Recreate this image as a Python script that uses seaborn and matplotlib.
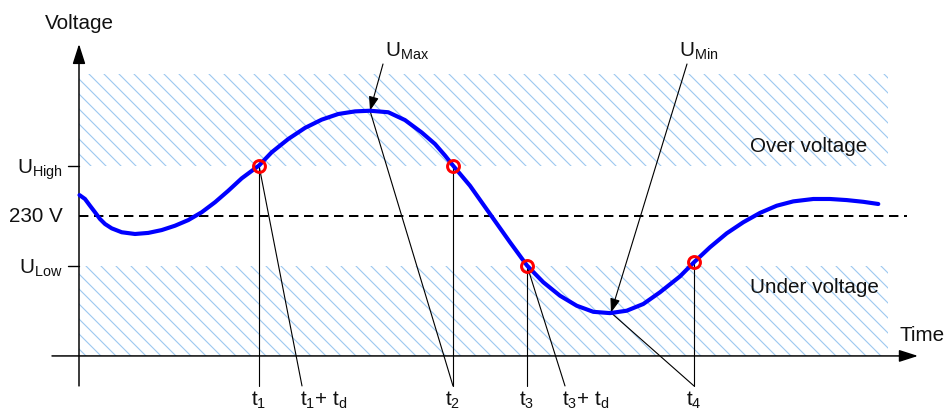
import matplotlib
matplotlib.use("Agg")
import matplotlib.pyplot as plt
import numpy as np
import pandas as pd
import seaborn as sns

# ---------------- data ----------------
time_ms = [0.05, 0.6, 1.1, 1.6, 2.1, 2.6, 3.27, 4.27, 5.6, 6.93, 8.27, 9.6,
           10.93, 12.27, 13.6, 14.93, 16.27, 18.0, 19.27, 20.93, 22.6, 24.27,
           25.93, 27.6, 29.1, 30.93, 32.6, 34.27, 35.6, 36.6, 37.4, 39.1,
           41.1, 43.1, 44.8, 46.43, 48.1, 49.77, 51.43, 53.1, 54.77, 56.43,
           58.1, 60.1, 61.5, 63.1, 64.77, 66.43, 68.1, 69.77, 71.43, 73.43,
           75.1, 76.77, 78.43, 79.93]
voltage = [239.4, 237.6, 234.5, 231.5, 228.4, 226.1, 224.1, 222.3, 221.5,
           222.0, 223.3, 225.3, 227.9, 231.5, 236.1, 241.4, 247.1, 253.0,
           259.1, 265.2, 270.3, 274.1, 276.7, 277.9, 278.2, 277.5, 273.9,
           268.2, 262.9, 257.6, 253.0, 243.7, 230.7, 217.7, 207.0, 199.3,
           193.1, 188.5, 185.7, 185.1, 186.2, 189.3, 194.7, 202.0, 208.5,
           215.4, 221.8, 226.9, 231.2, 234.5, 236.5, 237.6, 237.6, 237.1,
           236.3, 235.3]

U_NOM = 230.0
U_HIGH = 253.0
U_LOW = 207.0
level_values = [U_HIGH, U_NOM, U_LOW]
level_labels = [r"U$_{\mathrm{High}}$", "230 V", r"U$_{\mathrm{Low}}$"]

event_t = [18.0, 37.4, 44.8, 61.5]
event_v = [253.0, 253.0, 207.0, 208.5]
event_labels = [r"t$_{1}$", r"t$_{2}$", r"t$_{3}$", r"t$_{4}$"]

delay_event = [0, 2]
delay_end_t = [22.3, 48.6]
delay_labels = [r"t$_{1}$+ t$_{d}$", r"t$_{3}$+ t$_{d}$"]

extreme_t = [29.1, 53.2]
extreme_v = [278.2, 185.3]
extreme_labels = [r"U$_{\mathrm{Max}}$", r"U$_{\mathrm{Min}}$"]
extreme_arrow_t = [30.4, 60.8]
extreme_label_t = [30.6, 60.0]
extreme_event = [1, 3]

zone_labels = ["Over voltage", "Under voltage"]
zone_label_v = [259.7, 194.7]

# ---------------- layout / style ----------------
T_MIN, T_MAX = -7.9, 86.6
V_MIN, V_MAX = 139.15, 329.6
AXIS_V = 165.4
AXIS_T_START, AXIS_T_END = -2.7, 83.9
YAXIS_BOTTOM, YAXIS_TOP = 151.6, 308.9
LINE_BOTTOM = 151.6
HATCH_TOP = 295.1
HATCH_END = 80.9
DASH_END = 82.8
ANN_V = 299.7
LABEL_V = 303.4
EVENT_LABEL_V = 143.0

FS = 16.5
BLUE = "#0000ff"
RED = "#ff0000"
HATCH_C = "#9ec8f0"
TXT = "#111111"

sns.set_theme(style="white")
plt.rcParams["font.family"] = ["Liberation Sans", "DejaVu Sans"]
plt.rcParams["mathtext.fontset"] = "custom"
plt.rcParams["mathtext.rm"] = "Liberation Sans"
plt.rcParams["mathtext.it"] = "Liberation Sans"
plt.rcParams["mathtext.default"] = "regular"
plt.rcParams["hatch.linewidth"] = 0.9

fig = plt.figure(figsize=(10.5, 4.6), dpi=90)
ax = fig.add_axes([0, 0, 1, 1])

# hatched zones
ax.fill_between([0, HATCH_END], U_HIGH, HATCH_TOP, facecolor="none",
                edgecolor=HATCH_C, hatch="\\\\", linewidth=0, zorder=1)
ax.fill_between([0, HATCH_END], AXIS_V, U_LOW, facecolor="none",
                edgecolor=HATCH_C, hatch="\\\\", linewidth=0, zorder=1)

# nominal dashed line
ax.plot([0, DASH_END], [U_NOM, U_NOM], color="black", lw=1.6,
        dashes=(4.7, 2.8), zorder=2)

# axes with arrows
arrow_style = "-|>,head_length=1.0,head_width=0.32"
ax.annotate("", xy=(AXIS_T_END, AXIS_V), xytext=(AXIS_T_START, AXIS_V),
            arrowprops=dict(arrowstyle=arrow_style, mutation_scale=12.8,
                            lw=1.2, color="black", shrinkA=0, shrinkB=0),
            zorder=3)
ax.annotate("", xy=(0, YAXIS_TOP), xytext=(0, YAXIS_BOTTOM),
            arrowprops=dict(arrowstyle=arrow_style, mutation_scale=13.5,
                            lw=1.2, color="black", shrinkA=0, shrinkB=0),
            zorder=3)

# level ticks and labels
for v, lab in zip(level_values, level_labels):
    if v != U_NOM:
        ax.plot([-1.1, 0], [v, v], color="black", lw=1.1, zorder=3)
        ax.text(-1.6, v - 3.2, lab, ha="right", va="baseline",
                fontsize=FS, color=TXT)
    else:
        ax.text(-1.6, v - 2.6, lab, ha="right", va="baseline",
                fontsize=FS, color=TXT)

ax.text(0.05, 318.6, "Voltage", ha="center", va="center", fontsize=FS,
        color=TXT)
ax.text(82.1, 172.9, "Time", ha="left", va="baseline", fontsize=FS,
        color=TXT)
for lab, v in zip(zone_labels, zone_label_v):
    ax.text(67.1, v, lab, ha="left", va="baseline", fontsize=FS, color=TXT)

# event verticals and labels
for t, v, lab in zip(event_t, event_v, event_labels):
    ax.plot([t, t], [v, LINE_BOTTOM], color="black", lw=0.9, zorder=3)
    ax.text(t, EVENT_LABEL_V, lab, ha="center", va="baseline",
            fontsize=FS, color=TXT)

# delay lines
for i, te, lab in zip(delay_event, delay_end_t, delay_labels):
    ax.plot([event_t[i], te], [event_v[i], LINE_BOTTOM], color="black",
            lw=0.9, zorder=3)
    ax.text(te - 0.25, EVENT_LABEL_V, lab, ha="left", va="baseline",
            fontsize=FS, color=TXT)

# extremes: arrow from label, line to the following event
for t, v, ta, tl, lab, ei in zip(extreme_t, extreme_v, extreme_arrow_t,
                                 extreme_label_t, extreme_labels, extreme_event):
    ax.annotate("", xy=(t, v), xytext=(ta, ANN_V),
                arrowprops=dict(arrowstyle="-|>,head_length=1.0,head_width=0.35",
                                mutation_scale=9.5, lw=0.9, color="black",
                                shrinkA=0, shrinkB=0), zorder=3)
    ax.plot([t, event_t[ei]], [v, LINE_BOTTOM], color="black", lw=0.9,
            zorder=3)
    ax.text(tl, LABEL_V, lab, ha="left", va="baseline", fontsize=FS,
            color=TXT)

# voltage curve
df = pd.DataFrame({"time": time_ms, "voltage": voltage})
sns.lineplot(data=df, x="time", y="voltage", ax=ax, color=BLUE, lw=3.3,
             sort=False, zorder=4, legend=False)

# threshold crossings
ev = pd.DataFrame({"time": event_t, "voltage": event_v})
ax.plot(ev["time"], ev["voltage"], linestyle="none", marker="o",
        markersize=9.5, markerfacecolor="none", markeredgecolor=RED,
        markeredgewidth=2.4, zorder=5)

ax.set_xlim(T_MIN, T_MAX)
ax.set_ylim(V_MIN, V_MAX)
ax.axis("off")

fig.savefig("out.png", dpi=90)
